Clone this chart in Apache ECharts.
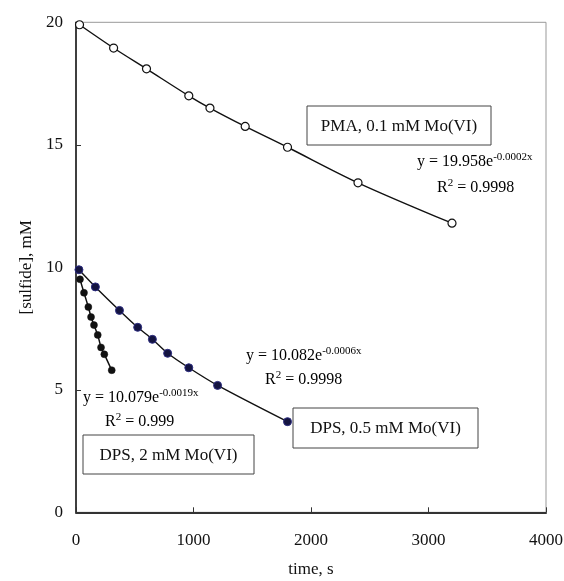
<!DOCTYPE html>
<html>
<head>
<meta charset="utf-8">
<script src="https://cdn.jsdelivr.net/npm/echarts@6/dist/echarts.min.js"></script>
<style>html,body{margin:0;padding:0;background:#fff;}#c{width:564px;height:581px;}</style>
</head>
<body>
<div id="c"></div>
<script>
// PMA, 0.1 mM Mo(VI)
const pmaTime = [30, 320, 600, 960, 1140, 1440, 1800, 2400, 3200];
const pmaConc = [19.9, 18.95, 18.1, 17.0, 16.5, 15.75, 14.9, 13.45, 11.8];
// DPS, 0.5 mM Mo(VI)
const dps05Time = [25, 165, 370, 525, 650, 780, 960, 1205, 1800];
const dps05Conc = [9.9, 9.2, 8.24, 7.55, 7.06, 6.49, 5.9, 5.18, 3.7];
// DPS, 2 mM Mo(VI)
const dps2Time = [34, 68, 105, 128, 153, 185, 213, 241, 304];
const dps2Conc = [9.51, 8.96, 8.38, 7.97, 7.64, 7.24, 6.73, 6.45, 5.8];
// axes
const xTicks = [0, 1000, 2000, 3000, 4000];
const yTicks = [0, 5, 10, 15, 20];

const FONT = '"Liberation Serif", "Times New Roman", serif';
const zip = (a, b) => a.map((v, i) => [v, b[i]]);

const chart = echarts.init(document.getElementById('c'), null, {renderer: 'canvas'});

const rich = {
  b: {fontSize: 16, fontFamily: FONT, color: '#111', lineHeight: 18, verticalAlign: 'bottom'},
  s: {fontSize: 11, fontFamily: FONT, color: '#111', lineHeight: 18, verticalAlign: 'top'}
};
function eqText(x, y, txt) {
  return {type: 'text', z: 10, style: {x: x, y: y, text: txt, rich: rich, align: 'left', verticalAlign: 'middle'}};
}
function box(x, y, w, h, label) {
  return [
    {type: 'rect', z: 10, shape: {x: x, y: y, width: w, height: h},
     style: {fill: '#fff', stroke: '#444', lineWidth: 1}},
    {type: 'text', z: 11, style: {x: x + w / 2, y: y + h / 2 + 1, text: label, align: 'center', verticalAlign: 'middle',
      fontSize: 17, fontFamily: FONT, fill: '#111'}}
  ];
}

const option = {
  animation: false,
  backgroundColor: '#fff',
  grid: {left: 76, top: 22.3, right: 18, bottom: 68.7, containLabel: false, outerBoundsMode: 'none',
    show: true, borderColor: '#999', borderWidth: 1, backgroundColor: 'transparent'},
  xAxis: {
    type: 'value', min: xTicks[0], max: xTicks[xTicks.length - 1], interval: 1000,
    name: 'time, s', nameLocation: 'middle', nameGap: 49,
    nameTextStyle: {fontSize: 17, fontFamily: FONT, color: '#111'},
    axisLine: {show: true, onZero: false, lineStyle: {color: '#333', width: 2}},
    axisTick: {show: true, inside: true, length: 5, lineStyle: {color: '#333', width: 1}},
    axisLabel: {margin: 20, fontSize: 17, fontFamily: FONT, color: '#111', formatter: v => String(v)},
    splitLine: {show: false}
  },
  yAxis: {
    type: 'value', min: yTicks[0], max: yTicks[yTicks.length - 1], interval: 5,
    name: '[sulfide], mM', nameLocation: 'middle', nameGap: 38,
    nameTextStyle: {fontSize: 17, fontFamily: FONT, color: '#111'},
    axisLine: {show: true, onZero: false, lineStyle: {color: '#111', width: 1.5}},
    axisTick: {show: true, inside: true, length: 5, lineStyle: {color: '#333', width: 1}},
    axisLabel: {margin: 13, fontSize: 17, fontFamily: FONT, color: '#111', formatter: v => String(v)},
    splitLine: {show: false}
  },
  series: [
    {
      name: 'PMA', type: 'line', data: zip(pmaTime, pmaConc), smooth: 0.3,
      symbol: 'circle', symbolSize: 8,
      lineStyle: {color: '#111', width: 1.4},
      itemStyle: {color: '#fff', borderColor: '#111', borderWidth: 1.2}
    },
    {
      name: 'DPS 0.5', type: 'line', data: zip(dps05Time, dps05Conc), smooth: 0.3,
      symbol: 'circle', symbolSize: 8,
      lineStyle: {color: '#111', width: 1.4},
      itemStyle: {color: '#141440', borderColor: '#2c2c80', borderWidth: 1}
    },
    {
      name: 'DPS 2', type: 'line', data: zip(dps2Time, dps2Conc), smooth: 0.2,
      symbol: 'circle', symbolSize: 7,
      lineStyle: {color: '#111', width: 1.5},
      itemStyle: {color: '#111', borderColor: '#111', borderWidth: 0.5}
    }
  ],
  graphic: [
    ...box(307, 106, 184, 39, 'PMA, 0.1 mM Mo(VI)'),
    ...box(293, 408, 185, 40, 'DPS, 0.5 mM Mo(VI)'),
    ...box(83, 435, 171, 39, 'DPS, 2 mM Mo(VI)'),
    eqText(417, 161, '{b|y = 19.958e}{s|-0.0002x}'),
    eqText(437, 187, '{b|R}{s|2}{b| = 0.9998}'),
    eqText(246, 355, '{b|y = 10.082e}{s|-0.0006x}'),
    eqText(265, 379, '{b|R}{s|2}{b| = 0.9998}'),
    eqText(83, 397, '{b|y = 10.079e}{s|-0.0019x}'),
    eqText(105, 421, '{b|R}{s|2}{b| = 0.999}')
  ]
};
chart.setOption(option);
</script>
</body>
</html>
